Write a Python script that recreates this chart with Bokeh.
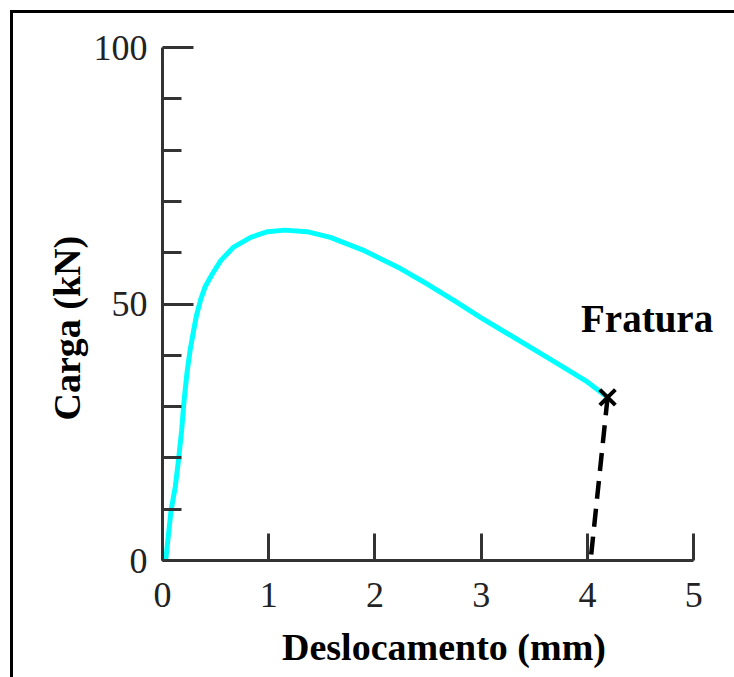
from bokeh.plotting import figure
from bokeh.layouts import column
from bokeh.models import Range1d, Label, FixedTicker, Title
from bokeh.embed import file_html
from bokeh.resources import INLINE

# Load-displacement curve (mm, kN)
disp = [0.03, 0.06, 0.08, 0.12, 0.15, 0.18, 0.20, 0.23, 0.26, 0.29, 0.32, 0.36, 0.40,
        0.47, 0.55, 0.67, 0.83, 0.99, 1.15, 1.36, 1.58, 1.90, 2.24, 2.50, 2.75, 3.00,
        3.25, 3.50, 3.75, 4.00, 4.19]
load = [0.0, 5.8, 9.7, 14.3, 19.5, 25.3, 30.5, 36.5, 41.0, 44.5, 47.8, 50.9, 53.3,
        55.9, 58.5, 61.1, 63.0, 64.1, 64.4, 64.1, 63.0, 60.4, 56.9, 53.8, 50.6, 47.3,
        44.2, 41.1, 38.0, 34.8, 31.8]
# elastic unloading after fracture
unload_x = [4.19, 4.03]
unload_y = [31.8, 0.0]
fracture_x = [4.19]
fracture_y = [31.8]

x_ticks = [0, 1, 2, 3, 4, 5]
y_major = [0, 50, 100]
y_minor = [10, 20, 30, 40, 60, 70, 80, 90]

x_title = "Deslocamento (mm)"
y_title = "Carga (kN)"
note = "Fratura"

p = figure(width=721, height=664, output_backend="svg", toolbar_location=None,
           x_range=Range1d(0, 5.3), y_range=Range1d(0, 100),
           min_border_left=149, min_border_right=9, min_border_top=34, min_border_bottom=117)
p.outline_line_color = None
p.xgrid.visible = False
p.ygrid.visible = False
p.background_fill_color = "white"
p.border_fill_color = "white"

serif = "Liberation Serif"
axis_col = "#333333"

xa = p.xaxis[0]
xa.bounds = (0, 5)
xa.ticker = FixedTicker(ticks=x_ticks)
xa.axis_line_width = 3
xa.axis_line_color = axis_col
xa.major_tick_in = 27
xa.major_tick_out = 0
xa.major_tick_line_width = 3
xa.major_tick_line_color = axis_col
xa.minor_tick_line_color = None
xa.major_label_text_font = serif
xa.major_label_text_font_size = "36px"
xa.major_label_text_color = "#222222"
xa.major_label_standoff = 22
xa.axis_label = x_title
xa.axis_label_text_font = serif
xa.axis_label_text_font_style = "bold"
xa.axis_label_text_font_size = "38px"
xa.axis_label_text_color = "black"
xa.axis_label_standoff = 16

ya = p.yaxis[0]
ya.bounds = (0, 100)
ya.ticker = FixedTicker(ticks=y_major, minor_ticks=y_minor)
ya.axis_line_width = 3
ya.axis_line_color = axis_col
ya.major_tick_in = 31
ya.major_tick_out = 0
ya.minor_tick_in = 19
ya.minor_tick_out = 0
ya.major_tick_line_width = 3
ya.minor_tick_line_width = 3
ya.major_tick_line_color = axis_col
ya.minor_tick_line_color = axis_col
ya.major_label_text_font = serif
ya.major_label_text_font_size = "36px"
ya.major_label_text_color = "#222222"
ya.major_label_standoff = 15

# y-axis title, shifted along the axis like in the original
p.add_layout(Title(text=y_title, align="left", offset=140, standoff=6,
                   text_font=serif, text_font_style="bold", text_font_size="38px",
                   text_color="black"), "left")

p.line(disp, load, line_color="#00FFFF", line_width=5, line_join="round")
p.line(unload_x, unload_y, line_color="black", line_width=4.5, line_dash="18 10")
p.scatter(fracture_x, fracture_y, marker="x", size=22, line_color="black", line_width=4)

p.add_layout(Label(x=3.94, y=47.2, text=note, text_align="left", text_baseline="alphabetic",
                   text_font=serif, text_font_style="bold", text_font_size="39px",
                   text_color="black"))

layout = column(p, styles={"margin-left": "10px", "margin-top": "10px",
                           "border-left": "3px solid black", "border-top": "3px solid black",
                           "background-color": "white"})

open("out.html", "w").write(file_html(layout, INLINE))
